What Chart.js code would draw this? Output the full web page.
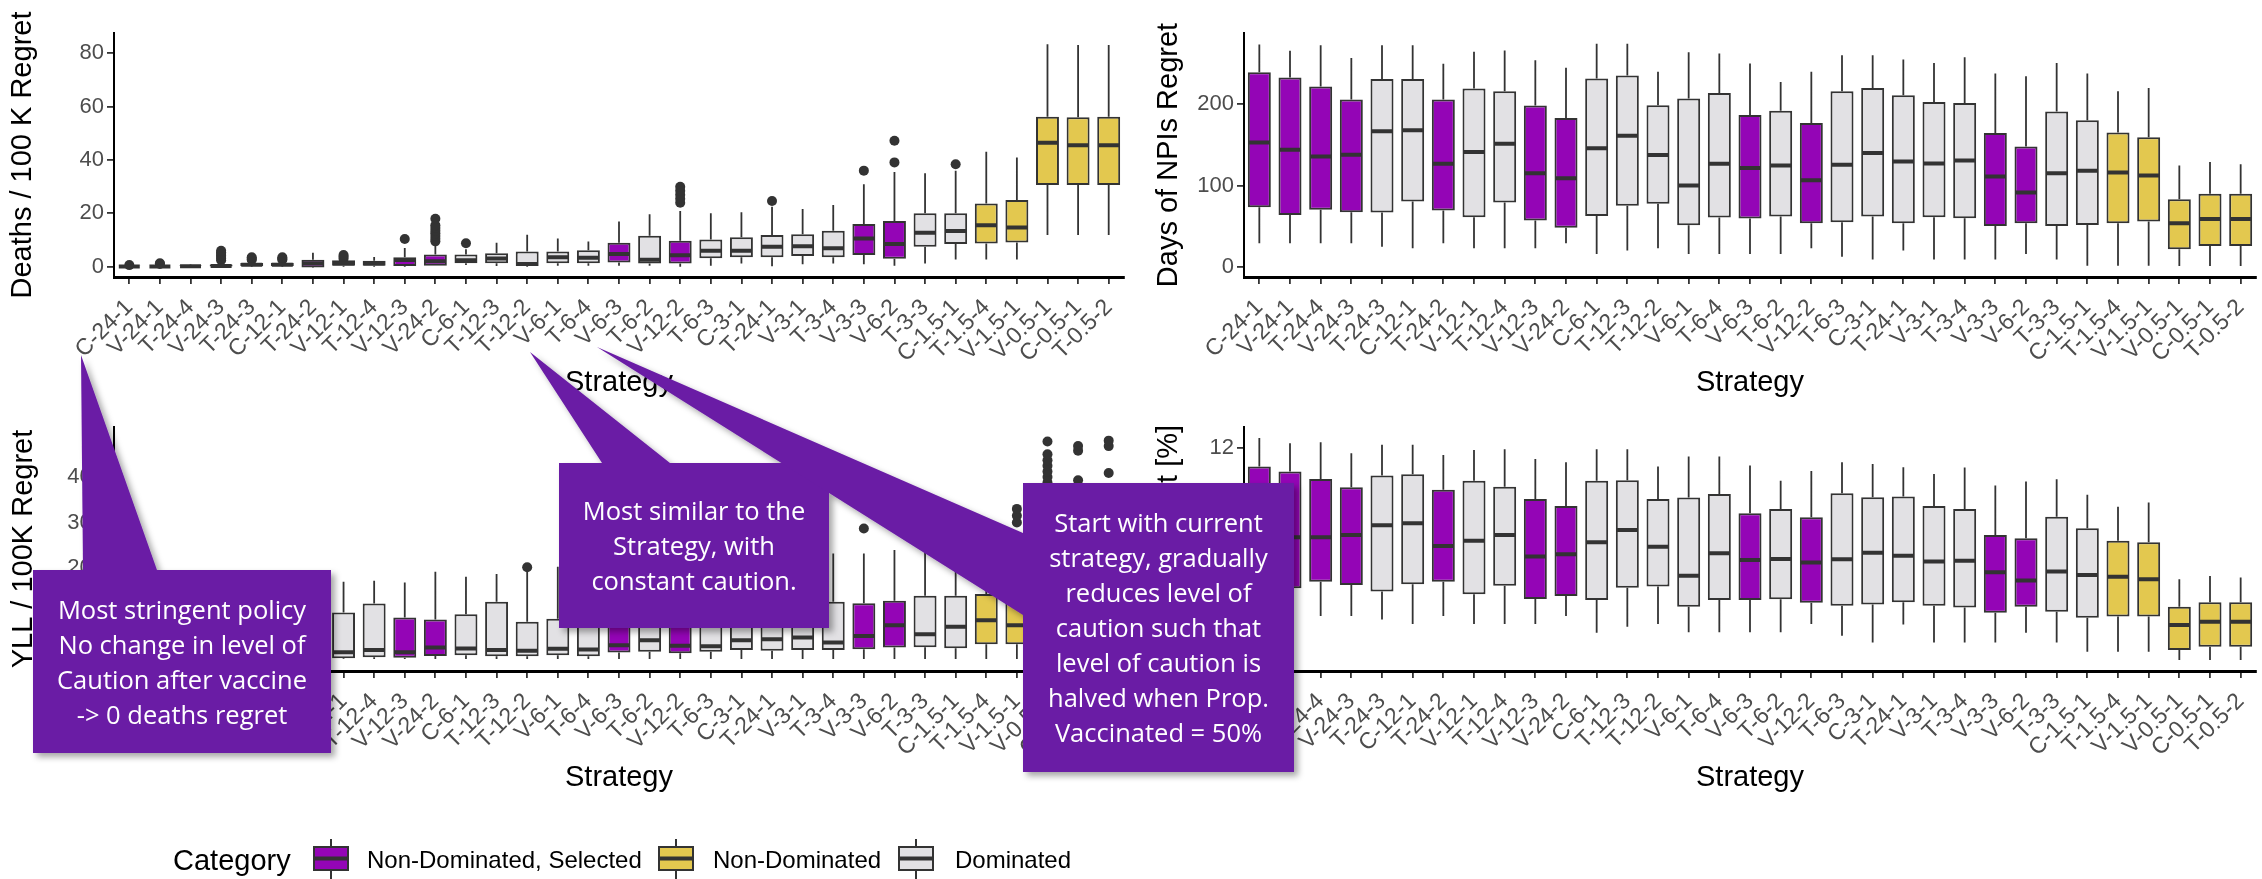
<!DOCTYPE html>
<html>
<head>
<meta charset="utf-8">
<script src="https://cdn.jsdelivr.net/npm/chart.js@4.4.1/dist/chart.umd.min.js"></script>
<style>
  body { margin: 0; width: 2262px; height: 879px; background: #fff; position: relative; overflow: hidden; font-family: "Liberation Sans", Arial, sans-serif; }
  .panel { position: absolute; }
  #overlay { position: absolute; left: 0; top: 0; z-index: 5; }
  .callout-text { position: absolute; z-index: 6; display: flex; align-items: center; justify-content: center; text-align: center; color: #fff; font-family: "Open Sans", sans-serif; font-size: 25.5px; line-height: 35px; }
  .lg { position: absolute; color: #000; white-space: nowrap; }
  .lg-key { position: absolute; top: 839px; }
</style>
</head>
<body>
<div class="panel" style="left:0;top:0;width:1130px;height:420px"><canvas id="deaths"></canvas></div>
<div class="panel" style="left:1130px;top:0;width:1132px;height:420px"><canvas id="npis"></canvas></div>
<div class="panel" style="left:0;top:420px;width:1130px;height:459px"><canvas id="yll"></canvas></div>
<div class="panel" style="left:1130px;top:420px;width:1132px;height:459px"><canvas id="infected"></canvas></div>

<svg id="overlay" width="2262" height="879">
  <defs>
    <filter id="shadow" x="-10%" y="-10%" width="130%" height="130%">
      <feDropShadow dx="4" dy="4" stdDeviation="3" flood-color="#000" flood-opacity="0.35"/>
    </filter>
  </defs>
  <g fill="#6A1FA5" filter="url(#shadow)">
    <polygon points="33,570 83,570 81,355 157,570 331,570 331,753 33,753"/>
    <polygon points="559,463 602,463 530,352 670,463 829,463 829,628 559,628"/>
    <polygon points="1023,483 1294,483 1294,772 1023,772 1023,615 597,347 1023,533"/>
  </g>
</svg>
<div class="callout-text" style="left:33px;top:570px;width:298px;height:183px">Most stringent policy<br>No change in level of<br>Caution after vaccine<br>-&gt; 0 deaths regret</div>
<div class="callout-text" style="left:559px;top:463px;width:270px;height:165px">Most similar to the<br>Strategy, with<br>constant caution.</div>
<div class="callout-text" style="left:1023px;top:483px;width:271px;height:289px">Start with current<br>strategy, gradually<br>reduces level of<br>caution such that<br>level of caution is<br>halved when Prop.<br>Vaccinated = 50%</div>

<div class="lg" style="left:173px;top:843px;font-size:29px;line-height:34px">Category</div>
<svg class="lg-key" style="left:313px" width="36" height="40"><line x1="18" y1="0" x2="18" y2="40" stroke="#333" stroke-width="2"/><rect x="1" y="8" width="34" height="23" fill="#9405B6" stroke="#333" stroke-width="2"/><line x1="1" y1="19.5" x2="35" y2="19.5" stroke="#333" stroke-width="4"/></svg>
<div class="lg" style="left:367px;top:846px;font-size:24px;line-height:28px">Non-Dominated, Selected</div>
<svg class="lg-key" style="left:658px" width="36" height="40"><line x1="18" y1="0" x2="18" y2="40" stroke="#333" stroke-width="2"/><rect x="1" y="8" width="34" height="23" fill="#E3C84F" stroke="#333" stroke-width="2"/><line x1="1" y1="19.5" x2="35" y2="19.5" stroke="#333" stroke-width="4"/></svg>
<div class="lg" style="left:713px;top:846px;font-size:24px;line-height:28px">Non-Dominated</div>
<svg class="lg-key" style="left:898px" width="36" height="40"><line x1="18" y1="0" x2="18" y2="40" stroke="#333" stroke-width="2"/><rect x="1" y="8" width="34" height="23" fill="#E2E1E4" stroke="#333" stroke-width="2"/><line x1="1" y1="19.5" x2="35" y2="19.5" stroke="#333" stroke-width="4"/></svg>
<div class="lg" style="left:955px;top:846px;font-size:24px;line-height:28px">Dominated</div>

<script>
// strategies on the x axis, same order in all four panels
const strategies = ['C-24-1','V-24-1','T-24-4','V-24-3','T-24-3','C-12-1','T-24-2','V-12-1','T-12-4','V-12-3','V-24-2',
  'C-6-1','T-12-3','T-12-2','V-6-1','T-6-4','V-6-3','T-6-2','V-12-2','T-6-3','C-3-1','T-24-1','V-3-1','T-3-4',
  'V-3-3','V-6-2','T-3-3','C-1.5-1','T-1.5-4','V-1.5-1','V-0.5-1','C-0.5-1','T-0.5-2'];
// S = Non-Dominated, Selected / N = Non-Dominated / D = Dominated
const category = ['S','S','S','S','D','D','S','D','D','S','S','D','D','D','D','D','S','D','S','D','D','D','D','D','S','S','D','D','N','N','N','N','N'];

// each row: [lower whisker, q1, median, q3, upper whisker]
const deaths = [
  [0,0,0.1,0.3,0.6],[0,0,0.1,0.4,0.8],[0,0,0.2,0.5,0.8],[0,0.1,0.3,0.8,1.8],[0,0.3,0.7,1.4,2.2],
  [0,0.3,0.7,1.5,2.2],[-0.5,-0.3,1.2,2.6,5.2],[0,0.4,1.2,2.4,2.8],[0,0.4,1.2,2.2,3.6],[0,0.3,2.5,3.5,7.0],
  [0,0,2.0,4.6,8.5],[0.6,1.3,2.4,4.6,6.5],[0.3,1.3,3.1,5.0,9.0],[0,0.3,1.0,5.7,12.0],[0.4,1.3,3.5,5.7,10.6],
  [0.4,1.3,3.4,6.2,9.4],[0.4,1.6,4.8,9.0,16.9],[0.4,1.2,2.6,11.6,19.7],[0,1.2,4.3,9.7,20.9],[0.4,3.2,6.0,10.2,20.0],
  [1.2,3.5,6.0,11.0,20.4],[0.2,3.5,7.5,11.9,22.5],[0.9,4.0,7.7,12.2,21.6],[1.2,3.5,6.9,13.5,23.1],[0.9,4.4,10.6,16.0,30.9],
  [0.4,3.0,8.5,17.1,35.5],[1.2,7.5,12.7,20.0,35.0],[2.7,8.5,13.4,20.0,36.0],[2.7,8.7,15.5,23.7,43.1],[2.7,9.1,14.7,25.0,40.9],
  [11.9,30.6,46.5,56.2,83.4],[11.9,30.6,45.5,56.0,83.1],[11.9,30.6,45.5,56.2,83.1]
];
const deathsOutliers = [
  ['C-24-1',0.6],['V-24-1',1.0],['V-24-1',1.3],
  ['V-24-3',2.4],['V-24-3',3.0],['V-24-3',3.6],['V-24-3',4.2],['V-24-3',4.8],['V-24-3',5.4],['V-24-3',6.0],
  ['T-24-3',2.6],['T-24-3',3.0],['T-24-3',3.5],['C-12-1',2.6],['C-12-1',3.0],['C-12-1',3.5],
  ['V-12-1',3.0],['V-12-1',3.7],['V-12-1',4.4],['V-12-3',10.4],
  ['V-24-2',9.5],['V-24-2',10.5],['V-24-2',11.5],['V-24-2',12.5],['V-24-2',13.5],['V-24-2',14.5],['V-24-2',15.5],['V-24-2',18.0],
  ['C-6-1',8.8],['V-12-2',24.0],['V-12-2',25.5],['V-12-2',27.0],['V-12-2',28.5],['V-12-2',30.0],
  ['T-24-1',24.6],['V-3-3',36.0],['V-6-2',39.1],['V-6-2',47.2],['C-1.5-1',38.4]
];

const npis = [
  [28.8,73.3,153,239.5,273.7],[28.8,63.8,144,233,266],[28.8,70,135.8,222,272.8],[28.8,67,137.9,205.8,257],[24.7,66.7,166.7,231.3,272.8],
  [22.6,80.2,167.9,231.3,272.8],[28.8,69.1,126.7,205.8,249.8],[22.6,60.9,141.2,219.3,264.6],[22.6,79,151.4,216,266.3],[22.6,56.8,115.2,198.4,254.3],
  [28.8,48.1,109,183.1,244.9],[15.6,62.5,146,231.7,274.5],[19.8,74.9,161.3,235.4,274.5],[22.6,77.4,137.4,198.8,240],[15.6,51,100,207,264.2],
  [15.6,60.5,126.7,214,262.6],[15.6,59.3,121.4,186.8,250.2],[15.6,61.7,124.7,192.2,227.6],[22.6,53.5,106.6,177,240],[12.3,54.7,125.5,216,260.5],
  [9,61.7,140,220.2,260.5],[19.8,53.5,129.6,211.1,255.1],[9,60.9,127.2,202.9,251],[9,59.7,130.9,201.6,258],[9,50.2,111.1,164.6,237.9],
  [15.6,53.5,91.4,148.1,234.6],[9,50.2,115.2,191,251],[1.2,51.4,118.1,180.2,237.9],[1.2,53.5,116,165.4,216],[1.2,55.6,112.3,159.3,220.2],
  [0.8,21.4,53.5,83.1,124.7],[0.8,25.5,58.8,89.7,128.8],[0.8,25.5,58.8,89.7,126.3]
];
const npisOutliers = [];

const yll = [
  [0,1,8,60,150],[0,1,8,62,155],[0,1,9,70,165],[0,1,10,75,170],[0,2,12,95,180],
  [0,2,12,100,185],[0,2,12,80,170],[0,1.5,14.7,102,170],[0,3.7,19.8,122,172],[0,2.9,14.7,91,168],
  [0,6.6,25.3,87,192],[0,8.1,23.1,98.6,181],[0,5.9,19.8,126,187],[0,5.9,18.3,82,192],[0,8.1,22.3,88.4,203],
  [0,5.9,20.6,95,210],[0,14,30,105,230],[0,16,41,95,215],[0,12.5,29,100,225],[0,16,28,95,220],
  [0,19.8,41,100,235],[0,18.3,43.5,105,240],[0,19.8,47,110,245],[0,19.8,36,126,232],[0,21.3,50.5,122.3,232],
  [0,25,74.4,128.2,239.5],[0,25.6,54.2,139.2,250.5],[0,23.4,70.7,139.2,260],[0,32.6,85.4,142.9,270],[0,32.6,74.4,124.5,265],
  [20,110,170,230,360],[20,105,165,225,350],[20,105,165,225,350]
];
const yllOutliers = [
  ['T-12-2',201.5],['V-3-3',287],['V-6-2',295],['V-1.5-1',300],['V-1.5-1',315],['V-1.5-1',330],
  ['V-0.5-1',388],['V-0.5-1',400],['V-0.5-1',412],['V-0.5-1',425],['V-0.5-1',437],['V-0.5-1',450],['V-0.5-1',478],
  ['C-0.5-1',393],['C-0.5-1',458],['C-0.5-1',468],['T-0.5-2',409],['T-0.5-2',468],['T-0.5-2',480]
];

const infected = [
  [2.0,4.0,7.7,10.96,12.57],[2.0,4.06,6.95,10.68,12.28],[2.5,4.44,6.95,10.26,12.34],[2.5,4.25,7.09,9.79,11.72],[2.3,3.88,7.63,10.45,12.19],
  [2.04,4.29,7.75,10.52,12.19],[2.5,4.44,6.46,9.64,11.62],[2.04,3.72,6.76,10.15,11.9],[2.04,4.21,7.09,9.82,11.94],[2.04,3.46,5.86,9.12,11.39],
  [2.5,3.63,5.99,8.73,11.2],[1.55,3.4,6.67,10.15,11.94],[1.89,4.1,7.37,10.18,11.94],[2.04,4.16,6.42,9.12,10.96],[1.57,3.02,4.78,9.2,11.53],
  [1.57,3.4,6.05,9.41,11.53],[1.57,3.4,5.67,8.32,11.02],[1.57,3.44,5.73,8.56,10.15],[2.04,3.25,5.52,8.09,10.71],[1.38,3.08,5.71,9.45,11.2],
  [1.0,3.15,6.08,9.22,11.1],[2.02,3.27,5.91,9.26,10.92],[1.0,3.08,5.58,8.73,10.54],[1.0,2.98,5.63,8.56,10.9],[1.0,2.68,4.97,7.08,9.88],
  [1.55,3.02,4.5,6.9,10.11],[1.0,2.74,5.01,8.12,10.24],[0.47,2.4,4.82,7.46,9.36],[0.47,2.46,4.72,6.76,8.69],[0.47,2.46,4.57,6.67,8.92],
  [0,0.57,1.98,3.02,4.57],[0,0.76,2.17,3.27,4.76],[0,0.76,2.17,3.27,4.67]
];
const infectedOutliers = [];

// y tick labels per panel
const deathsTicks = [0, 20, 40, 60, 80];
const npisTicks = [0, 100, 200];
const yllTicks = [0, 100, 200, 300, 400];
const infectedTicks = [0, 4, 8, 12];

const ink = '#333333';
const catColor = { S: '#9405B6', N: '#E3C84F', D: '#E2E1E4' };

Chart.defaults.font.family = '"Liberation Sans", Arial, sans-serif';

function makeBoxChart(id, rows, outliers, yMin, yMax, yTicks, yTitle, titleX, topPad, xAxisHeight, titleGap) {
  // whiskers under the boxes, medians on top, y title drawn without width squeeze
  const boxParts = {
    id: 'boxParts',
    beforeDatasetsDraw(chart) {
      const ctx = chart.ctx, x = chart.scales.x, y = chart.scales.y;
      ctx.save();
      ctx.strokeStyle = ink;
      ctx.lineWidth = 1.8;
      ctx.beginPath();
      rows.forEach(function(r, i) {
        const px = x.getPixelForValue(i);
        ctx.moveTo(px, y.getPixelForValue(r[0]));
        ctx.lineTo(px, y.getPixelForValue(r[1]));
        ctx.moveTo(px, y.getPixelForValue(r[3]));
        ctx.lineTo(px, y.getPixelForValue(r[4]));
      });
      ctx.stroke();
      ctx.restore();
    },
    afterDatasetsDraw(chart) {
      const ctx = chart.ctx, y = chart.scales.y;
      const bars = chart.getDatasetMeta(1).data;
      ctx.save();
      ctx.strokeStyle = ink;
      ctx.lineWidth = 4;
      ctx.beginPath();
      bars.forEach(function(bar, i) {
        const half = bar.width / 2 - 1;
        const py = y.getPixelForValue(rows[i][2]);
        ctx.moveTo(bar.x - half, py);
        ctx.lineTo(bar.x + half, py);
      });
      ctx.stroke();
      ctx.restore();
    },
    afterDraw(chart) {
      const ctx = chart.ctx, area = chart.chartArea;
      ctx.save();
      ctx.translate(titleX, (area.top + area.bottom) / 2);
      ctx.rotate(-Math.PI / 2);
      ctx.font = '29px "Liberation Sans", Arial, sans-serif';
      ctx.fillStyle = '#000';
      ctx.textAlign = 'center';
      ctx.textBaseline = 'middle';
      ctx.fillText(yTitle, 0, 0);
      ctx.restore();
    }
  };

  return new Chart(document.getElementById(id), {
    type: 'bar',
    data: {
      labels: strategies,
      datasets: [
        {
          type: 'scatter',
          order: 0,
          data: outliers.map(o => ({ x: o[0], y: o[1] })),
          pointRadius: 5,
          pointBackgroundColor: ink,
          pointBorderWidth: 0
        },
        {
          type: 'bar',
          order: 1,
          data: rows.map(r => [r[1], r[3]]),
          backgroundColor: category.map(c => catColor[c]),
          borderColor: ink,
          borderWidth: 2,
          borderSkipped: false,
          barPercentage: 0.75,
          categoryPercentage: 1
        }
      ]
    },
    plugins: [boxParts],
    options: {
      responsive: true,
      maintainAspectRatio: false,
      animation: false,
      layout: { padding: { left: 0, right: 6, top: topPad, bottom: 0 } },
      plugins: { legend: { display: false }, tooltip: { enabled: false } },
      scales: {
        x: {
          type: 'category',
          offset: true,
          grid: { display: true, offset: false, drawOnChartArea: false, drawTicks: true, tickLength: 7, color: ink, lineWidth: 1.8 },
          border: { display: true, color: '#000', width: 3 },
          ticks: { autoSkip: false, maxRotation: 45, minRotation: 45, color: '#4D4D4D', font: { size: 23 }, padding: 10 },
          title: { display: true, text: 'Strategy', color: '#000', font: { size: 29 }, padding: { top: 0, bottom: titleGap } },
          afterFit: function(s) { s.height = xAxisHeight; s.paddingLeft = 0; s.paddingRight = 0; }
        },
        y: {
          min: yMin,
          max: yMax,
          grid: { display: true, drawOnChartArea: false, drawTicks: true, tickLength: 7, color: ink, lineWidth: 1.8 },
          border: { display: true, color: '#000', width: 2 },
          ticks: { color: '#4D4D4D', font: { size: 22 }, padding: 3 },
          title: { display: false },
          afterBuildTicks: function(s) { s.ticks = yTicks.map(v => ({ value: v })); },
          afterFit: function(s) { s.width = 114; s.paddingTop = 0; s.paddingBottom = 0; }
        }
      }
    }
  });
}

makeBoxChart('deaths', deaths, deathsOutliers, -3.86, 87.6, deathsTicks, 'Deaths / 100 K Regret', 23, 33, 143, 20);
makeBoxChart('npis', npis, npisOutliers, -12.7, 287.8, npisTicks, 'Days of NPIs Regret', 39, 33, 143, 20);
makeBoxChart('yll', yll, yllOutliers, -26.4, 510, yllTicks, 'YLL / 100K Regret', 24, 7, 208, 84);
makeBoxChart('infected', infected, infectedOutliers, -0.62, 13.2, infectedTicks, 'Infected Regret [%]', 39, 7, 208, 84);
</script>
</body>
</html>
